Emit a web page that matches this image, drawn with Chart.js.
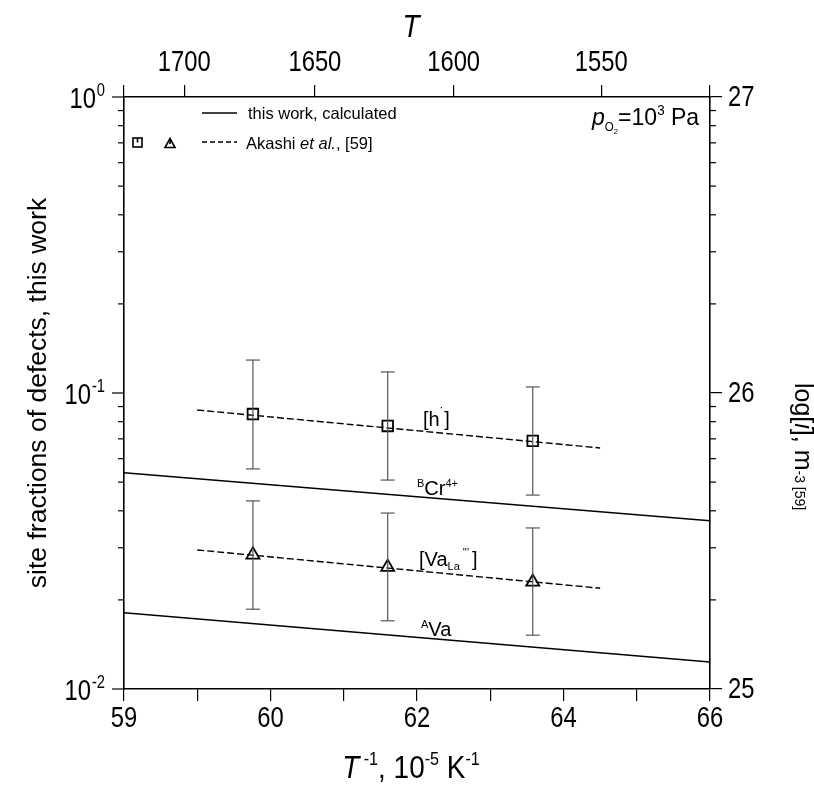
<!DOCTYPE html>
<html>
<head>
<meta charset="utf-8">
<title>Defect site fractions</title>
<script src="https://cdn.jsdelivr.net/npm/chart.js@4.4.0/dist/chart.umd.min.js"></script>
<style>
  html, body { margin: 0; padding: 0; background: #fff; }
</style>
</head>
<body>
<canvas id="defectChart" width="814" height="786"></canvas>
<script>
// x: T^-1 in 10^-5 K^-1, y: site fractions
const lineX = [58, 66];
const bCrCalc = [0.0538, 0.0370];
const aVaCalc = [0.0181, 0.01233];

const akashiLineX = [59.0, 64.5];
const hFit = [0.0876, 0.0652];
const vaFit = [0.0295, 0.0219];

const akashiX = [59.76, 61.60, 63.58];
const hValues = [0.0849, 0.0774, 0.0689];
const hErrHigh = [0.1292, 0.1178, 0.1048];
const hErrLow = [0.0554, 0.0508, 0.0452];
const vaValues = [0.0284, 0.0258, 0.0230];
const vaErrHigh = [0.0432, 0.0393, 0.0350];
const vaErrLow = [0.0186, 0.0170, 0.0152];

const bottomTickLabels = ['59', '', '60', '', '62', '', '64', '', '66'];
const topTickT = [1700, 1650, 1600, 1550];
const leftDecades = [-2, -1, 0];
const rightTickValues = [25, 26, 27];

const FONT = "'Liberation Sans', Arial, Helvetica, sans-serif";
const TICK_SIZE = 29;
const TICK_SX = 0.82; // tick numbers in the original are condensed

function pts(xs, ys) {
    return xs.map((x, i) => ({ x: x, y: ys[i] }));
}

function setFont(ctx, p) {
    ctx.font = (p.italic ? 'italic ' : '') + p.size + 'px ' + FONT;
}

// draws a run of text pieces (for super/subscripts), optionally squeezed horizontally
function drawRich(ctx, parts, x, y, align, sx) {
    sx = sx || 1;
    let total = 0;
    parts.forEach(p => {
        setFont(ctx, p);
        p.w = ctx.measureText(p.t).width;
        total += p.w + (p.dx || 0);
    });
    const start = align === 'right' ? x - total * sx : align === 'center' ? x - total * sx / 2 : x;
    ctx.save();
    ctx.translate(start, y);
    ctx.scale(sx, 1);
    let cx = 0;
    parts.forEach(p => {
        setFont(ctx, p);
        cx += p.dx || 0;
        ctx.fillText(p.t, cx, p.dy || 0);
        cx += p.w;
    });
    ctx.restore();
}

function tickText(ctx, text, x, y, align) {
    drawRich(ctx, [{ t: text, size: TICK_SIZE }], x, y, align, TICK_SX);
}

function seg(ctx, x1, y1, x2, y2) {
    ctx.beginPath();
    ctx.moveTo(x1, y1);
    ctx.lineTo(x2, y2);
    ctx.stroke();
}

const decorPlugin = {
    id: 'decor',
    afterDatasetsDraw(chart) {
        const ctx = chart.ctx;
        const xs = chart.scales.x, ys = chart.scales.y;
        ctx.save();
        ctx.strokeStyle = '#555';
        ctx.lineWidth = 1.2;
        [[hErrLow, hErrHigh], [vaErrLow, vaErrHigh]].forEach(([lo, hi]) => {
            akashiX.forEach((x, i) => {
                const px = xs.getPixelForValue(x);
                const p1 = ys.getPixelForValue(hi[i]);
                const p2 = ys.getPixelForValue(lo[i]);
                seg(ctx, px, p1, px, p2);
                seg(ctx, px - 7, p1, px + 7, p1);
                seg(ctx, px - 7, p2, px + 7, p2);
            });
        });
        ctx.restore();
    },
    afterDraw(chart) {
        const ctx = chart.ctx;
        const a = chart.chartArea;
        const { x: xs, x2: xt, y: ys, y2: yr } = chart.scales;
        ctx.save();
        ctx.fillStyle = '#000';
        ctx.strokeStyle = '#000';
        ctx.textBaseline = 'alphabetic';
        ctx.textAlign = 'left';
        ctx.lineWidth = 1.2;

        // tick numbers, placed through the scales
        xs.ticks.forEach((t, i) => {
            const label = bottomTickLabels[i];
            if (label) tickText(ctx, label, xs.getPixelForValue(t.value), a.bottom + 38, 'center');
        });
        xt.ticks.forEach(t => {
            const T = Math.round(1e5 / t.value);
            if (topTickT.includes(T)) tickText(ctx, String(T), xt.getPixelForValue(t.value), a.top - 26, 'center');
        });
        yr.ticks.forEach(t => {
            tickText(ctx, String(t.value), a.right + 18, yr.getPixelForValue(t.value) + 8.5, 'left');
        });

        // left axis: major ticks and 10^n labels
        leftDecades.forEach(d => {
            const py = ys.getPixelForValue(Math.pow(10, d));
            seg(ctx, a.left - 12, py, a.left, py);
            drawRich(ctx, [
                { t: '10', size: TICK_SIZE },
                { t: String(d), size: 18, dy: -12, dx: 1 }
            ], a.left - 19, py + 11, 'right', TICK_SX);
        });
        // minor ticks on both sides
        leftDecades.slice(0, -1).forEach(d => {
            for (let m = 2; m <= 9; m++) {
                const py = ys.getPixelForValue(m * Math.pow(10, d));
                seg(ctx, a.left - 6, py, a.left, py);
                seg(ctx, a.right, py, a.right + 6, py);
            }
        });

        // axis titles
        ctx.save();
        ctx.translate(37, (a.top + a.bottom) / 2);
        ctx.rotate(-Math.PI / 2);
        ctx.textAlign = 'center';
        ctx.font = '26.5px ' + FONT;
        ctx.fillText('site fractions of defects, this work', 0, 9);
        ctx.restore();

        ctx.save();
        ctx.translate(795, 383);
        ctx.rotate(Math.PI / 2);
        drawRich(ctx, [
            { t: 'log[', size: 25 }, { t: 'i', size: 25, italic: true }, { t: '], m', size: 25 },
            { t: '-3', size: 14 }, { t: ' [59]', size: 14 }
        ], 0, 0, 'left');
        ctx.restore();

        drawRich(ctx, [
            { t: 'T', size: 31, italic: true }, { t: ' -1', size: 18, dy: -13 },
            { t: ', 10', size: 31 }, { t: '-5', size: 18, dy: -13 },
            { t: ' K', size: 31 }, { t: '-1', size: 18, dy: -13 }
        ], 411, 778, 'center', 0.9);
        drawRich(ctx, [{ t: 'T', size: 31, italic: true }], 411, 37, 'center', 0.9);

        // legend
        ctx.lineWidth = 1.5;
        seg(ctx, 202, 113, 237, 113);
        drawRich(ctx, [{ t: 'this work, calculated', size: 16.5 }], 248, 119, 'left');
        ctx.setLineDash([5, 3]);
        seg(ctx, 202, 142, 237, 142);
        ctx.setLineDash([]);
        ctx.lineWidth = 1.6;
        ctx.strokeRect(133, 138, 9, 9);
        seg(ctx, 137.5, 138, 137.5, 142.5);
        ctx.beginPath();
        ctx.moveTo(170, 138.5);
        ctx.lineTo(175, 147.5);
        ctx.lineTo(165, 147.5);
        ctx.closePath();
        ctx.stroke();
        seg(ctx, 170, 138.5, 170, 144);
        drawRich(ctx, [
            { t: 'Akashi ', size: 16.5 }, { t: 'et al.', size: 16.5, italic: true }, { t: ', [59]', size: 16.5 }
        ], 246, 148.5, 'left');

        // oxygen partial pressure
        drawRich(ctx, [
            { t: 'p', size: 24, italic: true }, { t: 'O', size: 12, dy: 6 }, { t: '2', size: 8, dy: 9 },
            { t: '=10', size: 24 }, { t: '3', size: 14, dy: -10 }, { t: ' Pa', size: 24 }
        ], 592, 125, 'left', 0.96);

        // curve labels
        drawRich(ctx, [{ t: '[h', size: 20 }, { t: '\u02d9', size: 14, dy: -8 }, { t: ']', size: 20 }], 423, 426, 'left');
        drawRich(ctx, [{ t: 'B', size: 11, dy: -8 }, { t: 'Cr', size: 20 }, { t: '4+', size: 11, dy: -8 }], 417, 495, 'left');
        drawRich(ctx, [
            { t: '[Va', size: 20 }, { t: 'La', size: 11, dy: 4 }, { t: "'''", size: 11, dy: -10, dx: 3 }, { t: ']', size: 20, dx: 3 }
        ], 419, 566, 'left');
        drawRich(ctx, [{ t: 'A', size: 11, dy: -8 }, { t: 'Va', size: 20 }], 421, 636, 'left');

        ctx.restore();
    }
};

const tickMarks = { drawOnChartArea: false, tickLength: 12, color: '#000', lineWidth: 1.2 };
const axisLine = { color: '#000', width: 1.6 };

new Chart(document.getElementById('defectChart'), {
    type: 'scatter',
    data: {
        datasets: [
            { label: 'BCr4+', data: pts(lineX, bCrCalc), showLine: true, borderColor: '#000', borderWidth: 1.5, pointRadius: 0 },
            { label: 'AVa', data: pts(lineX, aVaCalc), showLine: true, borderColor: '#000', borderWidth: 1.5, pointRadius: 0 },
            { label: '[h] fit', data: pts(akashiLineX, hFit), showLine: true, borderColor: '#000', borderWidth: 1.4, borderDash: [7, 3], pointRadius: 0 },
            { label: '[Va] fit', data: pts(akashiLineX, vaFit), showLine: true, borderColor: '#000', borderWidth: 1.4, borderDash: [7, 3], pointRadius: 0 },
            { label: '[h] Akashi', data: pts(akashiX, hValues), pointStyle: 'rect', pointRadius: 7.5, borderWidth: 1.8, borderColor: '#000', backgroundColor: 'rgba(0,0,0,0)' },
            { label: '[Va] Akashi', data: pts(akashiX, vaValues), pointStyle: 'triangle', pointRadius: 7.5, borderWidth: 1.8, borderColor: '#000', backgroundColor: 'rgba(0,0,0,0)' }
        ]
    },
    options: {
        responsive: false,
        animation: false,
        layout: { padding: 0 },
        plugins: {
            legend: { display: false },
            tooltip: { enabled: false }
        },
        scales: {
            x: {
                type: 'linear',
                position: 'bottom',
                min: 58,
                max: 66,
                afterFit: s => { s.height = 97; },
                ticks: { stepSize: 1, autoSkip: false, display: false },
                grid: tickMarks,
                border: axisLine
            },
            x2: {
                type: 'linear',
                position: 'top',
                min: 58,
                max: 66,
                afterFit: s => { s.height = 97; },
                afterBuildTicks: s => {
                    s.ticks = [58].concat(topTickT.map(t => 1e5 / t), [66]).map(v => ({ value: v }));
                },
                ticks: { autoSkip: false, display: false },
                grid: tickMarks,
                border: axisLine
            },
            y: {
                type: 'logarithmic',
                position: 'left',
                min: 0.01,
                max: 1,
                afterFit: s => { s.width = 124; },
                ticks: { display: false },
                grid: { display: false },
                border: axisLine
            },
            y2: {
                type: 'linear',
                position: 'right',
                min: 25,
                max: 27,
                afterFit: s => { s.width = 104; },
                afterBuildTicks: s => {
                    s.ticks = rightTickValues.map(v => ({ value: v }));
                },
                ticks: { display: false },
                grid: tickMarks,
                border: axisLine
            }
        }
    },
    plugins: [decorPlugin]
});
</script>
</body>
</html>
